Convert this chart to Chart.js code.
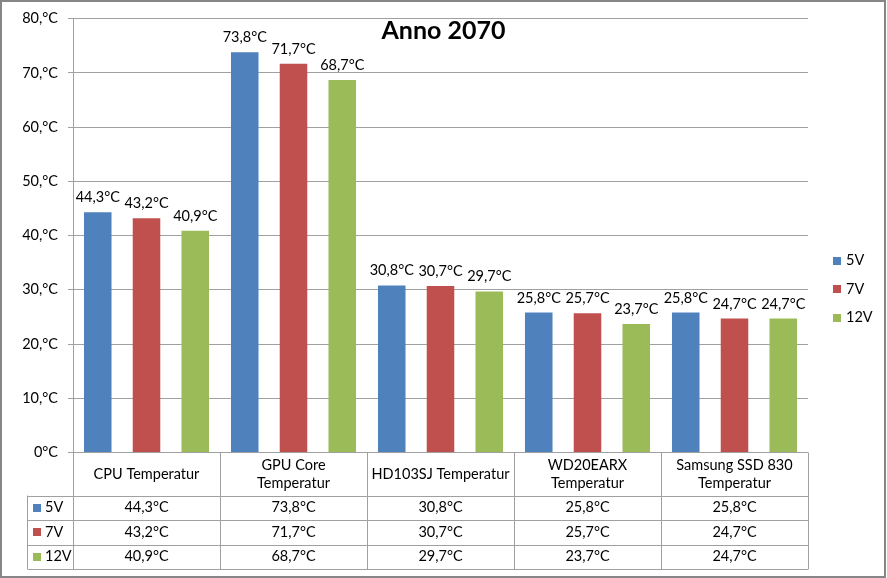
<!DOCTYPE html>
<html><head><meta charset="utf-8">
<script src="https://cdn.jsdelivr.net/npm/chart.js@4"></script>
<style>html,body{margin:0;padding:0;background:#fff}canvas{display:block}</style>
</head><body>
<canvas id="c" width="887" height="578"></canvas>
<script>
const chartTitle = 'Anno 2070';
const categories = [['CPU Temperatur'], ['GPU Core', 'Temperatur'], ['HD103SJ Temperatur'], ['WD20EARX', 'Temperatur'], ['Samsung SSD 830', 'Temperatur']];
const seriesNames = ['5V', '7V', '12V'];
const values5V = [44.3, 73.8, 30.8, 25.8, 25.8];
const values7V = [43.2, 71.7, 30.7, 25.7, 24.7];
const values12V = [40.9, 68.7, 29.7, 23.7, 24.7];
const yTickLabels = ['0°C', '10,°C', '20,°C', '30,°C', '40,°C', '50,°C', '60,°C', '70,°C', '80,°C'];
const colors = ['#4F81BD', '#C0504D', '#9BBB59'];

const FONT = 'Lato, "Noto Sans", sans-serif';
const LINE = '#a0a0a0';
const fmt = v => v.toFixed(1).replace('.', ',') + '°C';

const extras = {
  id: 'extras',
  afterDatasetsDraw(chart) {
    const ctx = chart.ctx;
    ctx.save();
    ctx.font = '14.5px ' + FONT;
    ctx.fillStyle = '#000';
    ctx.textAlign = 'center';
    ctx.textBaseline = 'alphabetic';
    chart.data.datasets.forEach((ds, di) => {
      const meta = chart.getDatasetMeta(di);
      meta.data.forEach((bar, i) => {
        ctx.fillText(fmt(ds.data[i]), bar.x, bar.y - 10);
      });
    });
    ctx.restore();
  },
  afterDraw(chart) {
    const ctx = chart.ctx;
    const xs = chart.scales.x;
    const area = chart.chartArea;
    const n = chart.data.labels.length;
    const cw = (xs.right - xs.left) / n;
    const top = area.bottom;
    const headBottom = 495.5, rowH = 24.5;
    const tableBottom = headBottom + rowH * 3;
    const leftRows = 27.5;
    ctx.save();
    ctx.strokeStyle = LINE;
    ctx.lineWidth = 1;
    ctx.beginPath();
    for (let i = 0; i <= n; i++) {
      const x = Math.round(xs.left + cw * i) + 0.5;
      ctx.moveTo(x, top); ctx.lineTo(x, tableBottom);
    }
    ctx.moveTo(leftRows, headBottom); ctx.lineTo(leftRows, tableBottom);
    for (let r = 0; r <= 3; r++) {
      const y = Math.round(headBottom + rowH * r) + 0.5;
      ctx.moveTo(leftRows, y); ctx.lineTo(Math.round(xs.right) + 0.5, y);
    }
    ctx.stroke();
    ctx.fillStyle = '#000';
    ctx.font = '14.5px ' + FONT;
    ctx.textAlign = 'center';
    ctx.textBaseline = 'middle';
    const headMid = (top + headBottom) / 2;
    chart.data.labels.forEach((lab, i) => {
      const cx = xs.getPixelForValue(i);
      const lh = 18;
      const y0 = headMid - (lab.length - 1) * lh / 2;
      lab.forEach((t, k) => ctx.fillText(t, cx, y0 + k * lh));
    });
    chart.data.datasets.forEach((ds, di) => {
      const cy = headBottom + rowH * di + rowH / 2;
      ctx.fillStyle = ds.backgroundColor;
      ctx.fillRect(33, Math.round(cy - 4), 8, 8);
      ctx.fillStyle = '#000';
      ctx.textAlign = 'left';
      ctx.fillText(ds.label, 45, cy);
      ctx.textAlign = 'center';
      ds.data.forEach((v, i) => ctx.fillText(fmt(v), xs.getPixelForValue(i), cy));
    });
    const legY = [260.5, 289, 317.5];
    chart.data.datasets.forEach((ds, di) => {
      ctx.fillStyle = ds.backgroundColor;
      ctx.fillRect(833, Math.round(legY[di] - 4), 8, 8);
      ctx.fillStyle = '#000';
      ctx.textAlign = 'left';
      ctx.fillText(ds.label, 846, legY[di]);
    });
    ctx.font = 'bold 25px ' + FONT;
    ctx.textAlign = 'center';
    ctx.textBaseline = 'alphabetic';
    ctx.fillText(chartTitle, 443.5, 39);
    ctx.strokeStyle = '#868686';
    ctx.lineWidth = 2;
    ctx.strokeRect(1, 1, 884, 576);
    ctx.restore();
  }
};

new Chart(document.getElementById('c'), {
  type: 'bar',
  data: {
    labels: categories,
    datasets: seriesNames.map((name, i) => ({
      label: name,
      data: [values5V, values7V, values12V][i],
      backgroundColor: colors[i],
      categoryPercentage: 0.995,
      barPercentage: 0.565
    }))
  },
  options: {
    responsive: false,
    animation: false,
    devicePixelRatio: 1,
    layout: { padding: { left: 0, top: 18, right: 79, bottom: 125.5 } },
    plugins: { legend: { display: false }, title: { display: false }, tooltip: { enabled: false } },
    scales: {
      x: { display: false },
      y: {
        min: 0, max: 80,
        ticks: {
          stepSize: 10,
          padding: 10,
          color: '#000',
          font: { family: FONT, size: 14.5 },
          callback: (v, idx) => yTickLabels[idx]
        },
        grid: { color: LINE, tickLength: 5, drawTicks: true },
        border: { color: LINE },
        afterFit: s => { s.width = 73; }
      }
    }
  },
  plugins: [extras]
});
</script>
</body></html>
